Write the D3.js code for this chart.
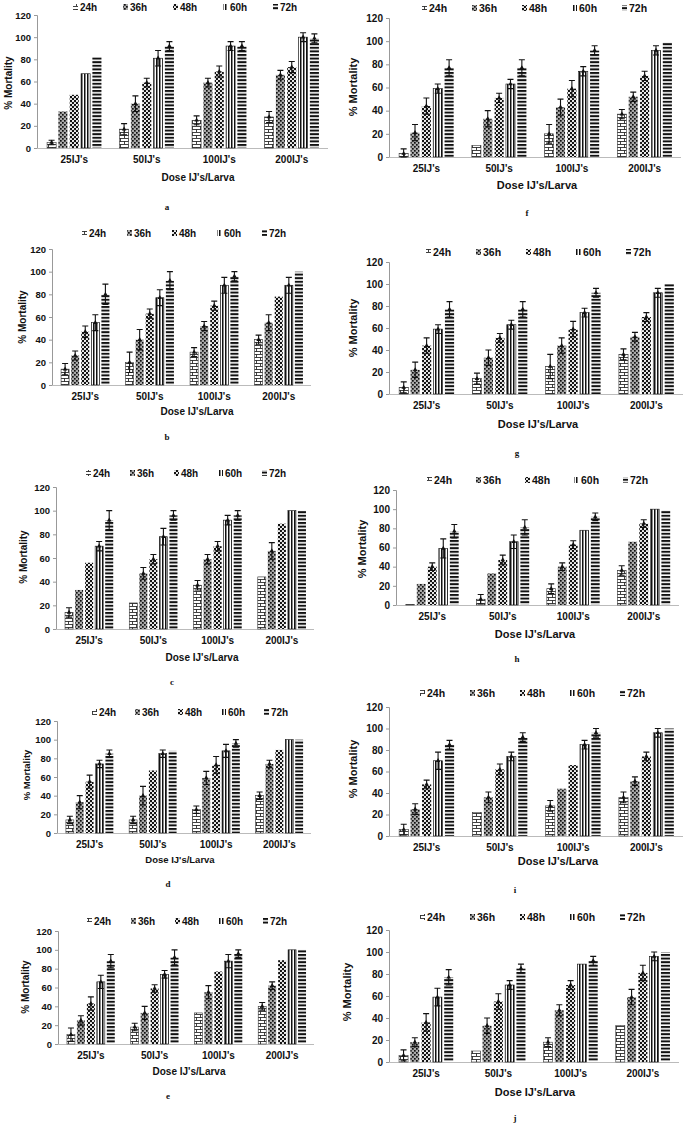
<!DOCTYPE html>
<html>
<head>
<meta charset="utf-8">
<script src="https://cdn.jsdelivr.net/npm/d3@7"></script>
<style>
body { margin: 0; background: #fff; }
text { font-family: "Liberation Sans", Arial, sans-serif; font-weight: bold; fill: #111; }
</style>
</head>
<body>
<svg width="685" height="1127"></svg>
<script>
'use strict';

// categories and series shared by all ten panels
var categories = ["25IJ's", "50IJ's", "100IJ's", "200IJ's"];
var series = ['24h', '36h', '48h', '60h', '72h'];
var yTicks = [0, 20, 40, 60, 80, 100, 120];

// % mortality, one row per series (24h..72h), one value per dose
var meanA = [[5, 17, 25, 28], [33, 40, 59, 66], [48, 59, 69, 73], [67, 81, 92, 100], [82, 92, 92, 99]];
var errA  = [[2, 5, 4, 5], [0, 7, 4, 4], [0, 4, 5, 5], [0, 7, 4, 4], [0, 4, 4, 4]];
var meanB = [[14, 20, 29, 40], [26, 40, 52, 55], [47, 63, 70, 78], [55, 77, 88, 88], [80, 92, 96, 100]];
var errB  = [[5, 9, 4, 4], [4, 9, 4, 7], [5, 4, 4, 0], [7, 7, 7, 7], [9, 8, 4, 0]];
var meanC = [[14, 22, 37, 44], [33, 47, 59, 66], [56, 59, 70, 89], [70, 78, 92, 100], [92, 96, 96, 100]];
var errC  = [[4, 0, 4, 0], [0, 5, 4, 7], [0, 4, 4, 0], [4, 7, 4, 0], [8, 4, 4, 0]];
var meanD = [[14, 14, 25, 40], [33, 40, 59, 74], [55, 67, 73, 89], [74, 85, 88, 100], [85, 88, 96, 100]];
var errD  = [[4, 4, 4, 4], [7, 10, 7, 4], [7, 0, 9, 0], [4, 4, 7, 0], [4, 0, 4, 0]];
var meanE = [[10, 18, 33, 40], [25, 33, 55, 62], [43, 59, 77, 89], [66, 74, 88, 100], [88, 92, 96, 100]];
var errE  = [[7, 4, 0, 4], [5, 7, 7, 4], [7, 4, 0, 0], [7, 4, 7, 0], [7, 8, 4, 0]];
var meanF = [[3, 10, 20, 37], [21, 33, 43, 52], [44, 51, 59, 70], [59, 63, 74, 92], [77, 77, 92, 99]];
var errF  = [[4, 0, 8, 4], [7, 7, 7, 4], [7, 4, 7, 4], [4, 4, 4, 4], [7, 7, 4, 0]];
var meanG = [[6, 14, 25, 36], [22, 33, 44, 52], [44, 51, 59, 70], [59, 63, 74, 92], [77, 77, 92, 100]];
var errG  = [[5, 5, 11, 5], [7, 7, 7, 4], [7, 4, 7, 4], [4, 4, 4, 4], [7, 7, 4, 0]];
var meanH = [[0.5, 6, 17, 36], [22, 33, 40, 66], [40, 47, 63, 85], [59, 66, 78, 100], [77, 81, 92, 99]];
var errH  = [[0, 5, 5, 5], [0, 0, 4, 0], [4, 5, 4, 4], [10, 7, 0, 0], [7, 8, 4, 0]];
var meanI = [[6, 22, 28, 36], [25, 36, 44, 51], [48, 62, 66, 74], [70, 74, 85, 96], [85, 92, 96, 100]];
var errI  = [[5, 0, 5, 5], [5, 5, 0, 4], [4, 5, 0, 4], [8, 4, 4, 4], [4, 4, 4, 0]];
var meanJ = [[6, 10, 18, 33], [18, 33, 47, 59], [36, 55, 70, 81], [59, 70, 89, 96], [77, 85, 92, 100]];
var errJ  = [[5, 0, 4, 0], [4, 7, 5, 7], [8, 7, 4, 7], [8, 4, 0, 4], [7, 4, 4, 0]];

// where each panel sits on the page (fs = title font size, tk = tick font size)
var layout = [
    { key: 'a', mean: meanA, err: errA, ax: 37, end: 328, top: 15, base: 148, legX: 73, legStep: 50, legY: 7, xt: [198, 177], yt: [8, 83], lab: [167, 207], fs: 10, tk: 9.5 },
    { key: 'f', mean: meanF, err: errF, ax: 389, end: 681, top: 18, base: 157, legX: 422, legStep: 50, legY: 8, xt: [537, 185], yt: [353, 87], lab: [527, 213], fs: 11, tk: 10 },
    { key: 'b', mean: meanB, err: errB, ax: 52, end: 311, top: 249, base: 385, legX: 82, legStep: 45, legY: 233, xt: [197, 411], yt: [22, 317], lab: [167, 437], fs: 10, tk: 9.5 },
    { key: 'g', mean: meanG, err: errG, ax: 389, end: 683, top: 262, base: 394, legX: 426, legStep: 50, legY: 252, xt: [538, 424], yt: [353, 328], lab: [517, 453], fs: 11, tk: 10 },
    { key: 'c', mean: meanC, err: errC, ax: 56, end: 314, top: 487, base: 629, legX: 86, legStep: 44, legY: 473, xt: [202, 657], yt: [23, 557], lab: [172, 682], fs: 10, tk: 9.5 },
    { key: 'h', mean: meanH, err: errH, ax: 396, end: 679, top: 490, base: 605, legX: 427, legStep: 49, legY: 480, xt: [535, 634], yt: [362, 549], lab: [517, 659], fs: 11, tk: 10 },
    { key: 'd', mean: meanD, err: errD, ax: 57, end: 311, top: 721, base: 833, legX: 92, legStep: 43, legY: 712, xt: [180, 860], yt: [27, 775], lab: [168, 884], fs: 9.5, tk: 9.5 },
    { key: 'i', mean: meanI, err: errI, ax: 389, end: 683, top: 707, base: 836, legX: 420, legStep: 50, legY: 693, xt: [558, 861], yt: [353, 769], lab: [515, 890], fs: 11, tk: 10 },
    { key: 'e', mean: meanE, err: errE, ax: 58, end: 314, top: 931, base: 1044, legX: 87, legStep: 44, legY: 921, xt: [189, 1071], yt: [25, 987], lab: [168, 1096], fs: 10, tk: 9.5 },
    { key: 'j', mean: meanJ, err: errJ, ax: 389, end: 679, top: 930, base: 1062, legX: 420, legStep: 50, legY: 917, xt: [535, 1092], yt: [347, 992], lab: [515, 1118], fs: 11, tk: 10 }
];

var svg = d3.select('svg');
var defs = svg.append('defs');

// 24h: brick pattern
var p = defs.append('pattern').attr('id', 'p24').attr('patternUnits', 'userSpaceOnUse')
    .attr('width', 8).attr('height', 6);
p.append('rect').attr('width', 8).attr('height', 6).attr('fill', '#fff');
p.append('path').attr('d', 'M0,0.5H8M0,3.5H8M0.5,0.5V3.5M4.5,3.5V6')
    .attr('stroke', '#111').attr('stroke-width', 0.8).attr('fill', 'none');

// 36h: grey with black dots
p = defs.append('pattern').attr('id', 'p36').attr('patternUnits', 'userSpaceOnUse')
    .attr('width', 4).attr('height', 4);
p.append('rect').attr('width', 4).attr('height', 4).attr('fill', '#a9a9a9');
p.append('rect').attr('width', 1.7).attr('height', 1.7).attr('fill', '#111');
p.append('rect').attr('x', 2).attr('y', 2).attr('width', 1.7).attr('height', 1.7).attr('fill', '#111');

// 48h: black with white dots
p = defs.append('pattern').attr('id', 'p48').attr('patternUnits', 'userSpaceOnUse')
    .attr('width', 4).attr('height', 4);
p.append('rect').attr('width', 4).attr('height', 4).attr('fill', '#111');
p.append('circle').attr('cx', 1).attr('cy', 1).attr('r', 1.1).attr('fill', '#fff');
p.append('circle').attr('cx', 3).attr('cy', 3).attr('r', 1.1).attr('fill', '#fff');

// 60h: vertical stripes
p = defs.append('pattern').attr('id', 'p60').attr('patternUnits', 'userSpaceOnUse')
    .attr('width', 3).attr('height', 4);
p.append('rect').attr('width', 3).attr('height', 4).attr('fill', '#fff');
p.append('rect').attr('width', 1.5).attr('height', 4).attr('fill', '#111');

// 72h: horizontal stripes
p = defs.append('pattern').attr('id', 'p72').attr('patternUnits', 'userSpaceOnUse')
    .attr('width', 4).attr('height', 3.6);
p.append('rect').attr('width', 4).attr('height', 3.6).attr('fill', '#fff');
p.append('rect').attr('width', 4).attr('height', 2).attr('fill', '#111');

var fills = ['url(#p24)', 'url(#p36)', 'url(#p48)', 'url(#p60)', 'url(#p72)'];
var outline = ['#333', 'none', 'none', '#111', 'none'];

layout.forEach(function (cfg) {
    var g = svg.append('g');

    var y = d3.scaleLinear().domain([0, 120]).range([cfg.base, cfg.top]);
    var x0 = d3.scaleBand().domain(categories).range([cfg.ax + 1, cfg.end])
        .paddingInner(0.25).paddingOuter(0.125);
    var x1 = d3.scaleBand().domain(series).range([0, x0.bandwidth()]).paddingInner(0.2);

    // y axis
    var yAxis = g.append('g').attr('transform', 'translate(' + cfg.ax + ',0)')
        .call(d3.axisLeft(y).tickValues(yTicks).tickSize(3).tickPadding(3));
    yAxis.select('.domain').attr('stroke', '#999');
    yAxis.selectAll('.tick line').attr('stroke', '#999');
    yAxis.selectAll('.tick text').attr('font-size', cfg.tk).attr('font-family', '"Liberation Sans", Arial, sans-serif')
        .attr('font-weight', 'bold').attr('fill', '#111');

    // x axis
    g.append('line').attr('x1', cfg.ax).attr('x2', cfg.end)
        .attr('y1', cfg.base + 0.5).attr('y2', cfg.base + 0.5).attr('stroke', '#bbb');
    var xAxis = g.append('g').attr('transform', 'translate(0,' + cfg.base + ')')
        .call(d3.axisBottom(x0).tickSize(0).tickPadding(8));
    xAxis.select('.domain').remove();
    xAxis.selectAll('.tick text').attr('font-size', 10).attr('font-family', '"Liberation Sans", Arial, sans-serif')
        .attr('font-weight', 'bold').attr('fill', '#111');

    // bars
    series.forEach(function (s, si) {
        var vals = cfg.mean[si];
        var errs = cfg.err[si];
        var grp = g.append('g');
        grp.selectAll('rect')
            .data(vals)
            .enter()
            .append('rect')
            .attr('x', function (d, i) { return x0(categories[i]) + x1(s); })
            .attr('y', function (d) { return y(d); })
            .attr('width', x1.bandwidth())
            .attr('height', function (d) { return cfg.base - y(d); })
            .attr('fill', fills[si])
            .attr('stroke', outline[si])
            .attr('stroke-width', 0.6);

        // error bars
        vals.forEach(function (d, i) {
            var e = errs[i];
            if (!e) return;
            var cx = x0(categories[i]) + x1(s) + x1.bandwidth() / 2;
            var lo = Math.max(0, d - e), hi = d + e;
            grp.append('path')
                .attr('d', 'M' + cx + ',' + y(lo) + 'V' + y(hi) +
                    'M' + (cx - 3) + ',' + y(hi) + 'H' + (cx + 3) +
                    'M' + (cx - 3) + ',' + y(lo) + 'H' + (cx + 3))
                .attr('stroke', '#111').attr('stroke-width', 1.1).attr('fill', 'none');
            grp.append('path')
                .attr('transform', 'translate(' + cx + ',' + y(d) + ')')
                .attr('d', d3.symbol().type(d3.symbolTriangle).size(9)())
                .attr('fill', '#111');
        });
    });

    // legend
    series.forEach(function (s, si) {
        var lx = cfg.legX + si * cfg.legStep;
        g.append('rect').attr('x', lx).attr('y', cfg.legY - 3).attr('width', 5).attr('height', 6)
            .attr('fill', fills[si]);
        g.append('text').attr('x', lx + 7).attr('y', cfg.legY + 3.5)
            .attr('font-size', cfg.tk + 0.5).text(s);
    });

    // axis titles
    g.append('text').attr('x', cfg.xt[0]).attr('y', cfg.xt[1]).attr('dy', '0.35em')
        .attr('text-anchor', 'middle').attr('font-size', cfg.fs).text("Dose IJ's/Larva");
    g.append('text').attr('transform', 'translate(' + cfg.yt[0] + ',' + cfg.yt[1] + ') rotate(-90)')
        .attr('dy', '0.35em').attr('text-anchor', 'middle').attr('font-size', cfg.fs).text('% Mortality');

    // panel letter
    g.append('text').attr('x', cfg.lab[0]).attr('y', cfg.lab[1]).attr('dy', '0.35em')
        .attr('text-anchor', 'middle').attr('font-size', 9)
        .style('font-family', '"Liberation Serif", "Times New Roman", serif')
        .text(cfg.key);
});
</script>
</body>
</html>
